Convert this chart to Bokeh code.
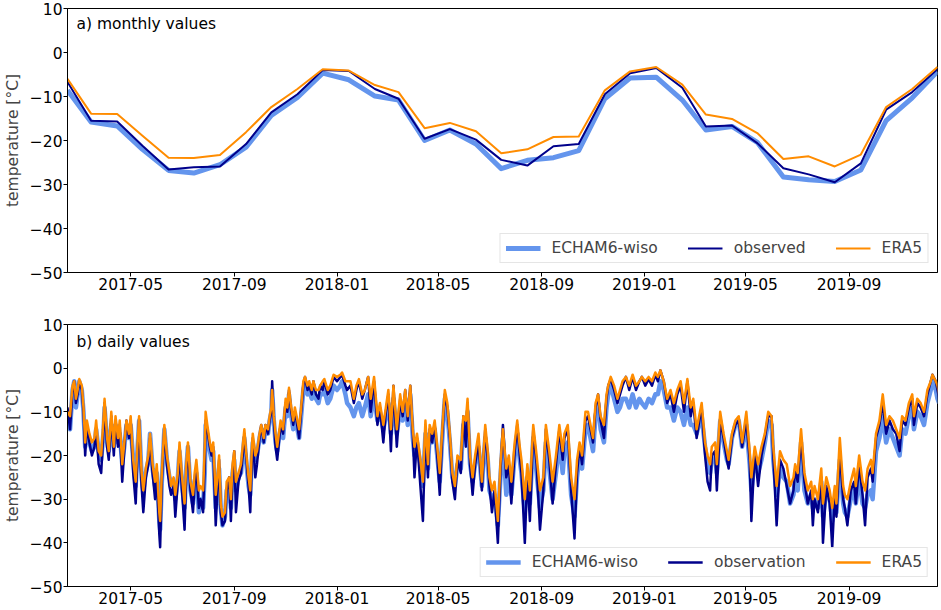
import pandas as pd
from bokeh.plotting import figure
from bokeh.layouts import column
from bokeh.models import (Legend, LegendItem, Label, FixedTicker,
                          DatetimeTickFormatter, Range1d)
from bokeh.embed import file_html
from bokeh.resources import INLINE

# ---------------- data ----------------
start_date = "2017-02-15"
end_date = "2019-12-15"
x_tick_dates = ["2017-05-01", "2017-09-01", "2018-01-01", "2018-05-01",
                "2018-09-01", "2019-01-01", "2019-05-01", "2019-09-01"]
y_ticks = [10, 0, -10, -20, -30, -40, -50]

# monthly values (mid-month), Feb 2017 .. Dec 2019
month_dates = pd.date_range("2017-02-01", periods=35, freq="MS") + pd.Timedelta(days=14)
echam_monthly = [-8.6, -15.8, -16.7, -22.0, -26.8, -27.4, -25.5, -21.5, -14.3, -10.2, -4.7,
                 -6.2, -9.9, -10.8, -20.0, -17.6, -20.8, -26.4, -24.5, -23.9, -22.3, -10.5, -5.8,
                 -5.6, -10.8, -17.6, -16.8, -20.4, -28.3, -28.9, -29.3, -26.7, -15.5, -10.3, -4.3]
obs_monthly = [-6.7, -15.5, -15.7, -21.2, -26.6, -26.1, -25.9, -20.8, -13.6, -9.5, -4.0,
               -4.2, -8.3, -10.5, -19.6, -17.4, -19.8, -24.4, -25.7, -21.3, -20.8, -9.5, -4.7,
               -3.5, -8.0, -16.8, -16.6, -20.6, -26.3, -27.7, -29.5, -25.2, -13.0, -9.0, -3.8]
era5_monthly = [-6.0, -13.9, -14.0, -18.9, -23.9, -24.0, -23.3, -18.1, -12.4, -8.3, -3.8,
                -4.1, -7.4, -9.0, -17.2, -16.0, -17.9, -22.9, -22.0, -19.2, -19.1, -8.6, -4.3,
                -3.3, -7.3, -14.1, -15.1, -18.3, -24.2, -23.6, -25.9, -23.2, -12.4, -8.3, -3.3]

# daily values, day offsets from start_date
day_a = [0, 3, 6, 8, 10, 12, 14, 17, 19, 21,
         23, 26, 29, 32, 34, 37, 40, 43, 44, 47,
         49, 52, 55, 57, 60, 62, 65, 68, 70, 73,
         75, 78, 81, 83, 85, 88, 90, 93, 96, 98,
         101, 104, 106, 109, 110, 112, 115, 118, 121, 123,
         126, 128, 131, 133, 136, 139, 141, 143, 146, 149,
         151, 153, 156, 158, 161, 163, 164, 166, 169, 171,
         173, 176, 178, 180, 182, 184, 187, 189, 192, 194,
         196, 198, 200, 203, 206, 208, 210, 212, 215, 217,
         219, 220, 223, 225, 228, 230, 233, 235, 238, 240,
         242, 243, 245, 247, 249, 251, 253, 256, 259, 261,
         263, 265, 268, 270, 272, 275, 277, 280, 282, 285,
         287, 290, 292, 295, 298, 300, 303]
obs_a = [-9, -14, -5, -3, -8, -6, -3, -5, -10, -20,
         -13, -17, -20, -18, -14, -22, -24, -13, -8, -18,
         -21, -11, -20, -12, -18, -13, -26, -17, -12, -16,
         -12, -24, -31, -20, -12, -27, -33, -25, -22, -16,
         -24, -30, -24, -38, -41, -26, -14, -22, -27, -29,
         -27, -34, -26, -19, -28, -37, -24, -18, -28, -33,
         -26, -23, -32, -30, -33, -22, -12, -14, -18, -20,
         -18, -36, -28, -21, -33, -36, -35, -28, -25, -35,
         -24, -19, -33, -26, -24, -20, -15, -20, -27, -33,
         -20, -16, -25, -22, -16, -13, -17, -13, -15, -12,
         -10, -3, -12, -18, -21, -17, -13, -15, -8, -10,
         -5, -9, -13, -10, -12, -16, -11, -4, -2, -5,
         -4, -6, -3, -6, -7, -4, -5]
era5_a = [-10, -11, -4, -3, -7, -5, -2.5, -4, -9, -17,
          -12, -15, -17, -16, -12, -19, -20, -11, -7, -16,
          -19, -10, -18, -11, -16, -12, -22, -16, -12, -15,
          -11, -21, -26, -18, -11, -24, -28, -23, -20, -15,
          -22, -26, -22, -33, -35, -24, -13, -20, -24, -27,
          -25, -29, -24, -17, -25, -31, -22, -17, -26, -29,
          -24, -21, -28, -27, -28, -18, -10, -13, -17, -19,
          -17, -29, -25, -20, -31, -34, -33, -26, -25, -30,
          -22, -19, -26, -24, -22, -18, -14, -19, -25, -28,
          -18, -15, -20, -19, -15, -13, -16, -13, -14, -11,
          -9, -5, -11, -15, -18, -15, -12, -14, -7, -9,
          -4.5, -8, -12, -9, -11, -14, -10, -3, -2, -4,
          -3, -5, -3, -5, -5, -4, -3]
echam_a = [-12, -14, -5, -3, -9, -6, -3, -5, -10, -18,
           -14, -17, -19, -18, -14, -19, -21, -14, -9, -17,
           -19, -13, -18, -13, -17, -15, -22, -17, -13, -16,
           -13, -21, -27, -19, -12, -25, -28, -24, -21, -15,
           -23, -27, -24, -35, -37, -26, -14, -21, -25, -26,
           -27, -30, -25, -19, -27, -32, -23, -18, -28, -31,
           -26, -24, -33, -30, -32, -24, -13, -16, -19, -21,
           -19, -32, -28, -23, -32, -36, -34, -28, -27, -32,
           -24, -21, -28, -25, -24, -20, -16, -21, -27, -29,
           -20, -17, -21, -20, -16, -14, -17, -14, -15, -12,
           -10, -5, -12, -17, -19, -16, -14, -16, -9, -11,
           -6, -10, -14, -11, -13, -16, -12, -5, -3, -6,
           -5, -7, -4, -7, -8, -6, -6]

day_b = [305, 309, 312, 316, 320, 324, 326, 330, 332, 336,
         340, 343, 346, 350, 353, 357, 360, 364, 368, 371,
         375, 378, 381, 384, 387, 391, 395, 398, 401, 404,
         407, 410, 412, 415, 419, 422, 425, 428, 430, 433,
         436, 439, 442, 445, 448, 451, 454, 457, 460, 463,
         467, 470, 473, 475, 478, 481, 484, 488, 492, 496,
         499, 501, 504, 507, 511, 514, 517, 521, 524, 527,
         531, 534, 537, 539, 543, 546, 549, 553, 557, 561,
         565, 568, 572, 576, 580, 584, 588, 590, 594, 598,
         602, 605, 608, 611, 615, 618, 621, 624, 627, 630,
         633, 637, 640, 642, 645, 649, 653, 656, 659]
obs_b = [-3, -6, -5, -2, -3, -2, -1.5, -4, -5, -4,
         -8, -5, -3, -7, -5, -2, -10, -3, -13, -9,
         -17, -10, -6, -19, -4, -18, -7, -11, -5, -12,
         -4, -15, -25, -16, -27, -35, -14, -25, -14, -17,
         -13, -20, -29, -15, -6, -9, -16, -26, -30, -21,
         -24, -11, -18, -8, -22, -29, -22, -17, -28, -14,
         -21, -27, -33, -28, -40, -24, -13, -25, -22, -31,
         -19, -13, -20, -24, -40, -24, -35, -14, -22, -37,
         -28, -14, -21, -31, -22, -14, -21, -16, -14, -28,
         -39, -24, -18, -22, -12, -11, -14, -17, -9, -6,
         -12, -16, -7, -4, -2.5, -5, -8, -6, -4]
era5_b = [-2.5, -5, -4, -1.5, -2, -1.5, -1, -3, -3, -3,
          -7, -4, -2.5, -6, -5, -2, -7, -2, -11, -8,
          -13, -9, -5, -14, -4, -14, -6, -10, -5, -11,
          -4, -14, -18, -15, -21, -26, -12, -22, -13, -15,
          -12, -18, -24, -14, -5, -8, -15, -24, -27, -20,
          -21, -11, -12, -7, -20, -25, -20, -15, -26, -13,
          -19, -25, -28, -26, -35, -22, -14, -23, -20, -26,
          -17, -12, -18, -21, -30, -22, -28, -13, -20, -28,
          -25, -13, -19, -26, -20, -13, -19, -15, -13, -25,
          -30, -21, -17, -20, -10, -10, -13, -16, -8, -6,
          -11, -13, -6, -4, -2, -4, -7, -5, -3]
echam_b = [-5, -8, -7, -4, -5, -4, -3, -6, -8, -9,
           -11, -9, -8, -11, -9, -6, -11, -6, -12, -10,
           -14, -11, -8, -15, -7, -15, -9, -12, -7, -13,
           -6, -16, -20, -17, -22, -27, -15, -23, -15, -17,
           -14, -20, -26, -16, -7, -10, -17, -25, -27, -22,
           -23, -13, -16, -10, -22, -26, -22, -18, -27, -16,
           -21, -28, -30, -29, -36, -25, -16, -29, -24, -29,
           -20, -15, -21, -24, -33, -25, -31, -16, -24, -32,
           -28, -17, -23, -30, -24, -17, -24, -19, -17, -29,
           -34, -25, -20, -23, -14, -13, -16, -19, -11, -8,
           -14, -17, -9, -6, -4, -7, -10, -9, -7]

day_c = [663, 667, 671, 675, 679, 682, 686, 690, 694, 698,
         701, 704, 708, 712, 716, 720, 724, 728, 732, 736,
         740, 743, 747, 751, 753, 757, 760, 763, 765, 769,
         771, 775, 779, 783, 785, 789, 793, 797, 801, 806,
         810, 812, 816, 820, 824, 828, 832, 836, 838, 842,
         846, 850, 854, 858, 862, 864, 867, 871, 875, 879,
         883, 885, 887, 891, 895, 897, 901, 905, 908, 911,
         913, 917, 921, 923, 926, 930, 934, 936, 940, 944,
         947, 950, 954, 956, 960, 964, 968, 972, 976, 980,
         984, 988, 991, 995, 999, 1003, 1005, 1009, 1013, 1017,
         1021, 1025, 1027, 1031, 1033, 1035]
obs_c = [-2, -5, -2, -5, -3, -2, -4, -2.5, -4, -1.5,
         -3, -0.5, -3, -8, -6, -10, -6, -4, -10, -3,
         -11, -8, -16, -11, -9, -20, -26, -28, -20, -19,
         -28, -12, -16, -21, -23, -16, -13, -12, -18, -12,
         -21, -35, -19, -27, -20, -16, -11, -11, -20, -36,
         -21, -23, -27, -31, -28, -23, -26, -16, -26, -31,
         -28, -36, -30, -33, -25, -40, -27, -31, -41, -29,
         -34, -19, -30, -32, -36, -28, -26, -31, -22, -29,
         -36, -25, -23, -26, -16, -13, -8, -15, -12, -14,
         -15, -19, -12, -13, -9, -7, -13, -8, -9, -11,
         -6, -3, -1.5, -3, -5, -7]
era5_c = [-2, -4, -1.5, -4, -3, -2, -3, -2, -3, -1,
          -2, -0.5, -3, -7, -5, -8, -5, -3, -8, -2.5,
          -9, -7, -14, -10, -8, -17, -20, -22, -18, -17,
          -22, -10, -15, -19, -21, -15, -12, -11, -17, -10,
          -19, -25, -18, -22, -18, -15, -10, -11, -18, -27,
          -19, -21, -22, -27, -25, -22, -24, -14, -24, -28,
          -26, -30, -27, -30, -23, -31, -25, -28, -32, -27,
          -31, -16, -27, -29, -30, -26, -23, -27, -20, -26,
          -28, -23, -21, -24, -15, -12, -6, -13, -11, -12,
          -14, -16, -11, -12, -8, -6, -11, -7, -8, -10,
          -5, -3, -1.5, -3, -4, -6]
echam_c = [-7, -9, -6, -9, -7, -8, -9, -7, -8, -6,
           -6, -3, -5, -9, -9, -12, -9, -10, -13, -9,
           -13, -13, -15, -12, -11, -18, -22, -24, -21, -20,
           -24, -12, -17, -21, -22, -16, -13, -12, -18, -13,
           -22, -28, -21, -24, -21, -17, -12, -13, -21, -29,
           -23, -25, -26, -31, -29, -25, -28, -17, -28, -31,
           -29, -32, -30, -32, -26, -34, -28, -30, -35, -30,
           -33, -21, -31, -33, -34, -30, -28, -31, -25, -31,
           -32, -29, -28, -30, -19, -16, -11, -17, -14, -16,
           -18, -20, -14, -15, -11, -9, -14, -10, -11, -13,
           -8, -5, -3, -5, -7, -8]

# ---------------- helpers ----------------
FONT = "DejaVu Sans"
FS = "15.5px"
C_ECHAM = "#6495ED"
C_OBS = "#00008B"
C_ERA = "#FF8C00"

t0 = pd.Timestamp(start_date)
def ms(ts):
    return pd.Timestamp(ts).value / 1e6

daily_days = day_a + day_b + day_c
daily_dates = [t0 + pd.Timedelta(days=d) for d in daily_days]
obs_daily = obs_a + obs_b + obs_c
era5_daily = era5_a + era5_b + era5_c
echam_daily = echam_a + echam_b + echam_c

x_range = Range1d(ms(start_date), ms(end_date))
fmt = "%Y-%m"


def make_fig(height, top_border, bottom_border, panel_text, text_y,
             dates, ech, obs, era, labels, widths):
    p = figure(width=940, height=height, x_axis_type="datetime",
               output_backend="svg", toolbar_location=None,
               x_range=x_range, y_range=Range1d(-50, 10),
               min_border_left=62, min_border_right=3,
               min_border_top=top_border, min_border_bottom=bottom_border)
    p.xgrid.visible = False
    p.ygrid.visible = False
    p.outline_line_color = "black"
    p.outline_line_width = 1
    p.background_fill_color = "white"
    p.border_fill_color = "white"

    for ax in (p.xaxis[0], p.yaxis[0]):
        ax.axis_line_color = "black"
        ax.major_tick_out = 4
        ax.major_tick_in = 0
        ax.minor_tick_out = 0
        ax.minor_tick_in = 0
        ax.major_tick_line_color = "black"
        ax.major_label_text_font = FONT
        ax.major_label_text_font_size = FS
        ax.major_label_text_color = "black"
        ax.major_label_standoff = 1

    p.xaxis.ticker = FixedTicker(ticks=[ms(d) for d in x_tick_dates])
    p.xaxis.formatter = DatetimeTickFormatter(
        milliseconds=fmt, seconds=fmt, minsec=fmt, minutes=fmt, hourmin=fmt,
        hours=fmt, days=fmt, months=fmt, years=fmt)
    p.yaxis.ticker = FixedTicker(ticks=y_ticks)
    p.yaxis.major_label_overrides = {v: ("\u2212" + str(abs(v)) if v < 0 else str(v)) for v in y_ticks}
    p.yaxis.axis_label = "temperature [°C]"
    p.yaxis.axis_label_text_font = FONT
    p.yaxis.axis_label_text_font_size = FS
    p.yaxis.axis_label_text_font_style = "normal"
    p.yaxis.axis_label_standoff = 5

    r1 = p.line(dates, ech, line_color=C_ECHAM, line_width=widths[0], line_join="round")
    r2 = p.line(dates, obs, line_color=C_OBS, line_width=widths[1], line_join="round")
    r3 = p.line(dates, era, line_color=C_ERA, line_width=widths[2], line_join="round")

    legend = Legend(items=[LegendItem(label=labels[0], renderers=[r1]),
                           LegendItem(label=labels[1], renderers=[r2]),
                           LegendItem(label=labels[2], renderers=[r3])],
                    location="bottom_right", orientation="horizontal",
                    label_text_font=FONT, label_text_font_size=FS,
                    glyph_width=35, glyph_height=18, label_height=18,
                    label_standoff=11, spacing=30, padding=5, margin=9,
                    border_line_color="#cccccc", border_line_width=1,
                    background_fill_color="white", background_fill_alpha=0.85)
    p.add_layout(legend)

    p.add_layout(Label(x=ms(t0 + pd.Timedelta(days=10.6)), y=text_y, text=panel_text,
                       text_font=FONT, text_font_size=FS, text_baseline="middle",
                       text_color="black"))
    return p


p1 = make_fig(300, 8, 28, "a) monthly values", 6.4, list(month_dates),
              echam_monthly, obs_monthly, era5_monthly,
              ["ECHAM6-wiso", "observed", "ERA5"], (5, 2, 2))
p2 = make_fig(309, 24, 23, "b) daily values", 6.0, daily_dates,
              echam_daily, obs_daily, era5_daily,
              ["ECHAM6-wiso", "observation", "ERA5"], (4.5, 2.5, 2.5))

layout = column(p1, p2)
open("out.html", "w").write(file_html(layout, INLINE))
